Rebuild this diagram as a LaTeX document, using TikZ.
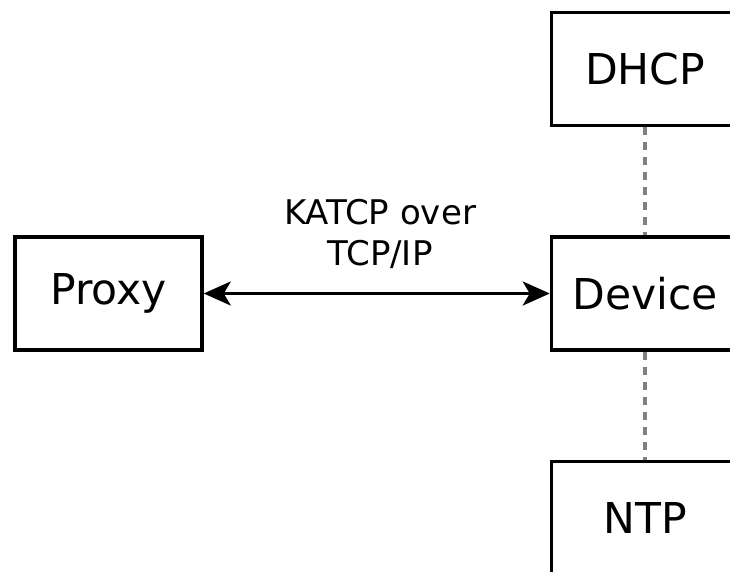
\documentclass[tikz,border=0pt]{standalone}
\usepackage{fontspec}
\setmainfont{DejaVu Sans}
\usetikzlibrary{arrows.meta}
\tikzset{
  blockbox/.style={draw=black, line width=3.5pt, minimum width=187pt, minimum height=113pt, inner sep=0pt, font=\fontsize{42.5}{50}\selectfont, fill=white},
  linkarrow/.style={line width=3.3pt, {Stealth[length=27pt,width=24pt,inset=7pt]}-{Stealth[length=27pt,width=24pt,inset=7pt]}},
  dotlink/.style={draw=gray, line width=3.5pt, dash pattern=on 8pt off 7pt},
  linklabel/.style={font=\fontsize{34}{41}\selectfont, align=center}
}
\begin{document}
\begin{tikzpicture}[x=1pt,y=-1pt]
\useasboundingbox (0,0) rectangle (730,572);
\clip (0,0) rectangle (730,572);
\node[blockbox] (proxy) at (108.5,293.5) {Proxy};
\node[blockbox] (device) at (645,293.5) {Device};
\node[blockbox] (dhcp) at (645,69) {DHCP};
\node[blockbox] (ntp) at (645,518) {NTP};
\draw[dotlink] (dhcp.south) -- (device.north);
\draw[dotlink] (device.south) -- (ntp.north);
\draw[linkarrow] (proxy.east) -- (device.west);
\node[linklabel] (lbl) at (380,234) {KATCP over\\TCP/IP};
\end{tikzpicture}
\end{document}
